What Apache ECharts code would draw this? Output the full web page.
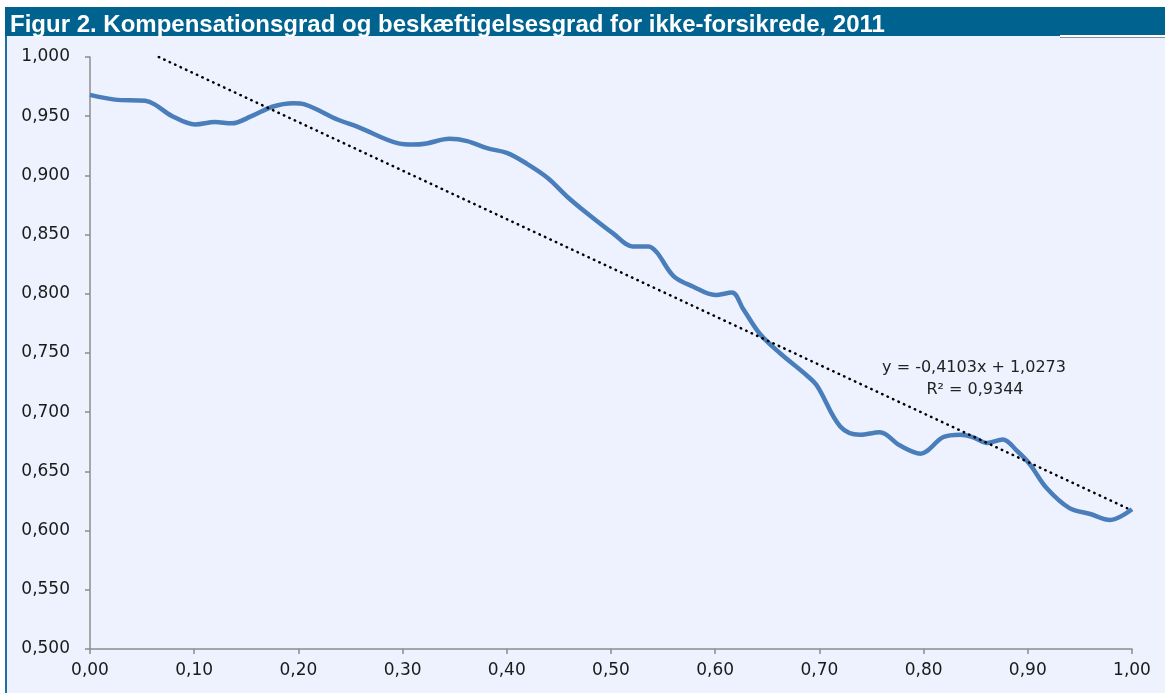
<!DOCTYPE html>
<html>
<head>
<meta charset="utf-8">
<title>Figur 2</title>
<script src="https://cdn.jsdelivr.net/npm/echarts@6/dist/echarts.min.js"></script>
<style>
	body { margin: 0; padding: 0; background: #fff; }
	#chart { width: 1165px; height: 693px; }
</style>
</head>
<body>
<div id="chart"></div>
<script>
// kompensationsgrad (x) og beskæftigelsesgrad (y)
var xVals = [0.000, 0.024, 0.053, 0.062, 0.079, 0.101, 0.120, 0.136, 0.155, 0.175,
	0.195, 0.206, 0.238, 0.257, 0.296, 0.310, 0.323, 0.345, 0.362, 0.381,
	0.400, 0.419, 0.439, 0.458, 0.477, 0.502, 0.521, 0.536, 0.544, 0.560,
	0.579, 0.600, 0.616, 0.627, 0.643, 0.662, 0.688, 0.698, 0.720, 0.739,
	0.758, 0.777, 0.797, 0.819, 0.835, 0.847, 0.861, 0.876, 0.890, 0.902,
	0.918, 0.940, 0.960, 0.979, 1.000];
var yVals = [0.968, 0.964, 0.963, 0.960, 0.950, 0.943, 0.945, 0.944, 0.950, 0.958,
	0.961, 0.960, 0.947, 0.941, 0.927, 0.926, 0.927, 0.931, 0.929, 0.923,
	0.919, 0.910, 0.898, 0.882, 0.868, 0.851, 0.840, 0.840, 0.835, 0.815,
	0.806, 0.799, 0.801, 0.787, 0.766, 0.750, 0.731, 0.722, 0.688, 0.681,
	0.683, 0.672, 0.665, 0.679, 0.681, 0.679, 0.674, 0.677, 0.667, 0.656,
	0.636, 0.619, 0.614, 0.609, 0.618];

// lineær trendlinje (start- og slutpunkt som i figuren)
var trendX = [0.066, 1.0];
var trendY = [1.0, 0.617];

var titleText = 'Figur 2. Kompensationsgrad og beskæftigelsesgrad for ikke-forsikrede, 2011';
var trendLabel = ['y = -0,4103x + 1,0273', 'R² = 0,9344'];

function commaFmt(v, d) {
	return v.toFixed(d).replace('.', ',');
}

var mainData = xVals.map(function (x, i) { return [x, yVals[i]]; });
var trendData = trendX.map(function (x, i) { return [x, trendY[i]]; });

var myChart = echarts.init(document.getElementById('chart'));
var option = {
	backgroundColor: '#eef2fe',
	animation: false,
	title: {
		text: titleText,
		left: 5,
		top: 8,
		textStyle: {
			color: '#ffffff',
			fontWeight: 'bold',
			fontSize: 24,
			fontFamily: 'Liberation Sans'
		}
	},
	graphic: [
		{ type: 'rect', shape: { x: 0, y: 0, width: 1165, height: 7 }, style: { fill: '#ffffff' }, silent: true },
		{ type: 'rect', shape: { x: 0, y: 0, width: 5, height: 693 }, style: { fill: '#ffffff' }, silent: true },
		{ type: 'rect', shape: { x: 5, y: 7, width: 1160, height: 29 }, style: { fill: '#00628f' }, silent: true },
		{ type: 'rect', shape: { x: 5, y: 36, width: 2, height: 657 }, style: { fill: '#1f6f9f' }, silent: true },
		{ type: 'rect', shape: { x: 1060, y: 35, width: 105, height: 2 }, style: { fill: '#ffffff' }, silent: true },
		{ type: 'rect', shape: { x: 1060, y: 37, width: 105, height: 1 }, style: { fill: '#8c8c96' }, silent: true },
		{
			type: 'text', x: 974, y: 360, silent: true,
			style: { text: trendLabel[0], fill: '#222', font: '16px "DejaVu Sans"', textAlign: 'center' }
		},
		{
			type: 'text', x: 975, y: 382, silent: true,
			style: { text: trendLabel[1], fill: '#222', font: '16px "DejaVu Sans"', textAlign: 'center' }
		}
	],
	grid: {
		left: 90,
		right: 33,
		top: 57,
		bottom: 44
	},
	xAxis: {
		type: 'value',
		min: 0,
		max: 1,
		interval: 0.1,
		axisLine: { show: true, lineStyle: { color: '#8c8c8c', width: 1.5 } },
		axisTick: { show: true, length: 5, lineStyle: { color: '#8c8c8c', width: 1.5 } },
		splitLine: { show: false },
		axisLabel: {
			margin: 13,
			color: '#1a1a1a',
			fontSize: 17,
			fontFamily: 'DejaVu Sans',
			formatter: function (v) { return commaFmt(v, 2); }
		}
	},
	yAxis: {
		type: 'value',
		min: 0.5,
		max: 1.0,
		interval: 0.05,
		axisLine: { show: true, lineStyle: { color: '#8c8c8c', width: 1.5 } },
		axisTick: { show: true, length: 5, lineStyle: { color: '#8c8c8c', width: 1.5 } },
		splitLine: { show: false },
		axisLabel: {
			margin: 20,
			color: '#1a1a1a',
			fontSize: 17,
			fontFamily: 'DejaVu Sans',
			formatter: function (v) { return commaFmt(v, 3); }
		}
	},
	series: [
		{
			name: 'Beskæftigelsesgrad',
			type: 'line',
			data: mainData,
			smooth: 0.35,
			showSymbol: false,
			lineStyle: { color: '#4a7ebb', width: 4.5 },
			z: 2
		},
		{
			name: 'Lineær',
			type: 'line',
			data: trendData,
			showSymbol: false,
			lineStyle: { color: '#000000', width: 2.5, type: [0.5, 5.5], cap: 'round' },
			z: 3
		}
	]
};
myChart.setOption(option);
</script>
</body>
</html>
